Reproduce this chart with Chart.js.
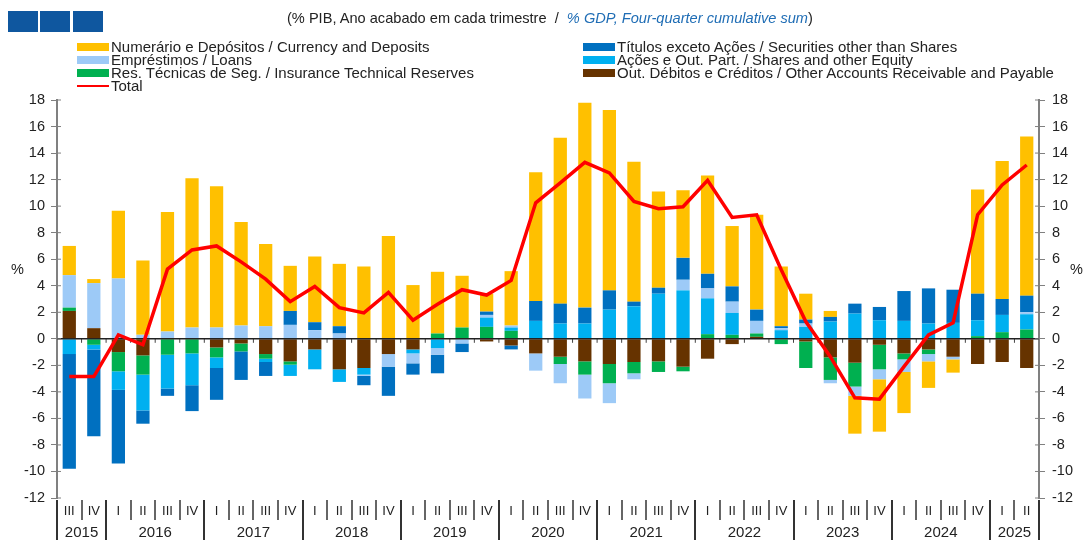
<!DOCTYPE html>
<html lang="pt">
<head>
<meta charset="UTF-8">
<title>Ativos financeiros</title>
<script src="https://cdn.jsdelivr.net/npm/chart.js"></script>
<style>
  body { margin: 0; background: #fff; font-family: 'Liberation Sans', Arial, sans-serif; color: #222; }
  #wrap { position: relative; width: 1083px; height: 540px; overflow: hidden; }
  #chart { position: absolute; left: 0; top: 0; }
  .sq { position: absolute; top: 11px; width: 30px; height: 21px; background: #0f579f; }
  #title { position: absolute; top: 10px; left: 287px; font-size: 14.6px; white-space: nowrap; }
  #title i { color: #1f6db5; }
  .lg { position: absolute; font-size: 15px; line-height: 13px; white-space: nowrap; }
  .lg span { display: inline-block; width: 32px; height: 8px; margin-right: 2px; vertical-align: 1px; }
  .lg span.ln { height: 2px; vertical-align: 4px; }
  .pct { position: absolute; font-size: 14.5px; top: 261px; }
</style>
</head>
<body>
<div id="wrap">
  <canvas id="chart" width="1083" height="540"></canvas>
  <div class="sq" style="left:8px"></div>
  <div class="sq" style="left:40px"></div>
  <div class="sq" style="left:73px"></div>
  <div id="title">(% PIB, Ano acabado em cada trimestre&nbsp; / &nbsp;<i>% GDP, Four-quarter cumulative sum</i>)</div>
  <div class="lg" style="left:77px;top:40px"><span style="background:#ffc000"></span>Numerário e Depósitos / Currency and Deposits</div>
  <div class="lg" style="left:77px;top:53px"><span style="background:#9dcaf7"></span>Empréstimos / Loans</div>
  <div class="lg" style="left:77px;top:66px"><span style="background:#00b050"></span>Res. Técnicas de Seg. / Insurance Technical Reserves</div>
  <div class="lg" style="left:77px;top:79px"><span class="ln" style="background:#ff0000"></span>Total</div>
  <div class="lg" style="left:583px;top:40px"><span style="background:#0070c0"></span>Títulos exceto Ações / Securities other than Shares</div>
  <div class="lg" style="left:583px;top:53px"><span style="background:#00b0f0"></span>Ações e Out. Part. / Shares and other Equity</div>
  <div class="lg" style="left:583px;top:66px"><span style="background:#663300"></span>Out. Débitos e Créditos / Other Accounts Receivable and Payable</div>
  <div class="pct" style="left:11px">%</div>
  <div class="pct" style="left:1070px">%</div>
</div>

<script>
// quarters 2015 III .. 2025 II
const quarterLabels = ['III','IV',
  'I','II','III','IV', 'I','II','III','IV', 'I','II','III','IV', 'I','II','III','IV',
  'I','II','III','IV', 'I','II','III','IV', 'I','II','III','IV', 'I','II','III','IV',
  'I','II','III','IV', 'I','II'];
const years = ['2015','2016','2017','2018','2019','2020','2021','2022','2023','2024','2025'];
const yearQuarters = [2, 4, 4, 4, 4, 4, 4, 4, 4, 4, 2];

// % of GDP
const currency = [2.2, 0.3, 5.1, 5.6, 9.0, 11.25, 10.65, 7.8, 6.2, 3.4,
  4.95, 4.7, 5.45, 7.75, 4.05, 4.65, 3.9, 1.35, 4.1, 9.7,
  12.5, 15.45, 13.6, 10.55, 7.25, 5.1, 7.4, 4.55, 7.15, 4.5,
  1.95, 0.45, -2.85, -3.95, -3.1, -2.0, -1.0, 7.85, 10.4, 12.0];
const securities = [-8.65, -6.55, -5.55, -1.0, -0.55, -1.95, -2.4, -2.15, -1.05, 1.05,
  0.6, 0.55, -0.7, -2.2, -0.85, -1.4, -0.65, 0.25, -0.3, 1.5,
  1.5, 1.2, 1.45, 0.35, 0.45, 1.65, 1.1, 1.15, 0.85, 0.15,
  0.3, 0.35, 0.75, 1.0, 2.25, 2.65, 2.5, 2.0, 1.2, 1.25];
const loans = [2.45, 3.4, 4.55, 0.3, 0.55, 0.85, 0.85, 1.0, 0.95, 1.05,
  0.65, 0.4, -0.1, -0.95, -0.75, -0.5, -0.35, 0.2, 0.15, -1.3,
  -1.45, -1.8, -1.5, -0.45, 0, 0.8, 0.75, 0.85, 0.95, 0.15,
  0.25, -0.25, -0.7, -0.75, -0.95, -0.55, -0.2, 0, 0, 0.15];
const shares = [-1.15, -0.35, -1.4, -2.7, -2.55, -2.4, -0.8, 0, -0.25, -0.85,
  -1.5, -0.95, -0.5, 0, -0.3, -0.7, 0, 0.7, 0.25, 1.35,
  1.15, 1.15, 2.2, 2.45, 3.4, 3.65, 2.7, 1.65, 0, 0.65,
  0.9, 1.3, 1.9, 1.4, 1.35, 1.15, 1.2, 1.2, 1.3, 1.15];
const insurance = [0.25, -0.45, -1.45, -1.45, -1.2, -1.1, -0.75, -0.6, -0.35, -0.25,
  0, 0, 0, 0, 0, 0.4, 0.85, 0.9, 0.6, 0,
  -0.55, -1.0, -1.45, -0.85, -0.8, -0.35, 0.35, 0.3, 0.25, -0.4,
  -2.0, -1.7, -1.8, -1.85, -0.45, -0.35, 0, 0.2, 0.5, 0.7];
const other = [2.1, 0.8, -1.0, -1.25, 0, 0, -0.65, -0.35, -1.15, -1.7,
  -0.8, -2.3, -2.2, -1.15, -0.8, 0, 0, -0.2, -0.5, -1.1,
  -1.35, -1.7, -1.9, -1.75, -1.7, -2.1, -1.5, -0.4, 0.15, 0,
  -0.2, -1.4, -1.8, -0.45, -1.1, -0.8, -1.35, -1.9, -1.75, -2.2];
const total = [-2.85, -2.85, 0.3, -0.45, 5.25, 6.7, 7.0, 5.8, 4.5, 2.8,
  3.95, 2.35, 1.95, 3.5, 1.4, 2.6, 3.7, 3.3, 4.4, 10.25,
  11.75, 13.3, 12.5, 10.35, 9.8, 9.95, 11.95, 9.15, 9.35, 5.2,
  1.3, -1.35, -4.45, -4.55, -2.1, 0.3, 1.2, 9.35, 11.6, 13.1];

const fam = "'Liberation Sans', Arial, sans-serif";

// year tick positions (centre of each year's quarters)
const yearCenters = [];
let start = 0;
yearQuarters.forEach(n => { yearCenters.push(start + (n - 1) / 2); start += n; });

function bar(label, data, color) {
  return { type: 'bar', label: label, data: data, backgroundColor: color, order: 1 };
}

const decorations = {
  id: 'decorations',
  beforeDatasetDraw(chart, args) {
    if (chart.data.datasets[args.index].type !== 'line') return;
    const { ctx, chartArea: a, scales } = chart;
    const y0 = scales.y.getPixelForValue(0);
    const w = (a.right - a.left) / quarterLabels.length;
    ctx.save();
    ctx.strokeStyle = '#444';
    ctx.lineWidth = 1;
    for (let i = 1; i < quarterLabels.length; i++) {
      ctx.beginPath();
      ctx.moveTo(a.left + i * w, y0);
      ctx.lineTo(a.left + i * w, y0 + 4);
      ctx.stroke();
    }
    ctx.strokeStyle = '#222';
    ctx.lineWidth = 1.5;
    ctx.beginPath();
    ctx.moveTo(a.left, y0);
    ctx.lineTo(a.right, y0);
    ctx.stroke();
    ctx.restore();
  },
  afterDraw(chart) {
    const { ctx, chartArea: a, scales } = chart;
    const w = (a.right - a.left) / quarterLabels.length;
    const yearEdges = [0];
    yearQuarters.forEach(n => yearEdges.push(yearEdges[yearEdges.length - 1] + n));
    ctx.save();
    ctx.strokeStyle = '#333';
    for (let i = 0; i <= quarterLabels.length; i++) {
      const px = Math.round(a.left + i * w);
      const isYear = yearEdges.includes(i);
      ctx.lineWidth = isYear ? 2 : 1.5;
      ctx.beginPath();
      ctx.moveTo(px, a.bottom + 2);
      ctx.lineTo(px, isYear ? 540 : a.bottom + 22);
      ctx.stroke();
    }
    // inner tick marks on both value axes
    ctx.strokeStyle = '#808080';
    ctx.lineWidth = 1;
    scales.y.ticks.forEach(t => {
      const py = scales.y.getPixelForValue(t.value);
      ctx.beginPath();
      ctx.moveTo(a.left, py); ctx.lineTo(a.left + 4, py);
      ctx.moveTo(a.right - 4, py); ctx.lineTo(a.right, py);
      ctx.stroke();
    });
    ctx.restore();
  }
};

new Chart(document.getElementById('chart'), {
  data: {
    labels: quarterLabels,
    datasets: [
      bar('Out. Débitos e Créditos / Other Accounts Receivable and Payable', other, '#663300'),
      bar('Res. Técnicas de Seg. / Insurance Technical Reserves', insurance, '#00b050'),
      bar('Ações e Out. Part. / Shares and other Equity', shares, '#00b0f0'),
      bar('Empréstimos / Loans', loans, '#9dcaf7'),
      bar('Títulos exceto Ações / Securities other than Shares', securities, '#0070c0'),
      bar('Numerário e Depósitos / Currency and Deposits', currency, '#ffc000'),
      {
        type: 'line', label: 'Total', data: total, stack: 'total', order: 0,
        borderColor: '#ff0000', borderWidth: 3.5, pointRadius: 0, tension: 0, fill: false
      }
    ]
  },
  options: {
    responsive: false,
    animation: false,
    layout: { padding: { top: 100, left: 0, right: 0, bottom: 0 } },
    datasets: { bar: { barPercentage: 0.54, categoryPercentage: 1.0 } },
    plugins: { legend: { display: false }, tooltip: { enabled: false } },
    scales: {
      x: {
        stacked: true,
        position: 'bottom',
        grid: { display: false, drawTicks: false },
        border: { display: false },
        ticks: { font: { family: fam, size: 13 }, color: '#222', padding: 6, maxRotation: 0, autoSkip: false },
        afterFit: s => { s.height = 20; }
      },
      x2: {
        type: 'linear',
        position: 'bottom',
        min: -0.5,
        max: quarterLabels.length - 0.5,
        grid: { display: false, drawTicks: false },
        border: { display: false },
        afterBuildTicks: s => { s.ticks = yearCenters.map(v => ({ value: v })); },
        ticks: { font: { family: fam, size: 15 }, color: '#222', padding: 6, maxRotation: 0, autoSkip: false,
                 callback: (v, i) => years[i] },
        afterFit: s => { s.height = 22; }
      },
      y: {
        stacked: true,
        position: 'left',
        min: -12, max: 18,
        ticks: { stepSize: 2, font: { family: fam, size: 14.5 }, color: '#222', padding: 6 },
        grid: { color: 'transparent', tickColor: '#808080', tickLength: 6, drawOnChartArea: false },
        border: { color: '#808080', width: 2 },
        afterFit: s => { s.width = 57; }
      },
      y2: {
        position: 'right',
        min: -12, max: 18,
        ticks: { stepSize: 2, font: { family: fam, size: 14.5 }, color: '#222', padding: 7 },
        grid: { color: 'transparent', tickColor: '#808080', tickLength: 6, drawOnChartArea: false },
        border: { color: '#808080', width: 2 },
        afterFit: s => { s.width = 44; }
      }
    }
  },
  plugins: [decorations]
});
</script>
</body>
</html>
